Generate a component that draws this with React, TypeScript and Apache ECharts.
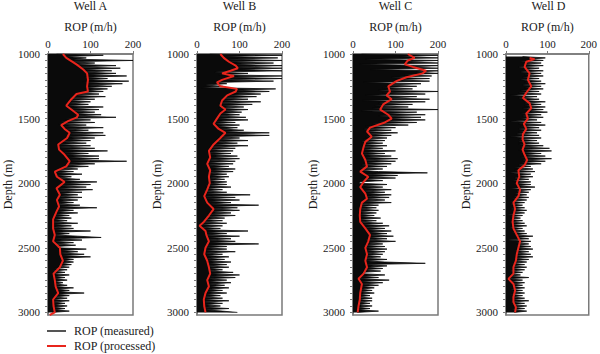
import { useEffect, useRef } from "react";
import * as echarts from "echarts";

const wells = ["Well A", "Well B", "Well C", "Well D"];
const depthTicks = [1000, 1500, 2000, 2500, 3000];
const depthMin = 1000;
const depthMax = 3020;
const depthStep = 10;
const measuredStart = [1000, 1000, 1000, 1020];
const measuredStep = 10;

// Measured ROP (m/h), one value every 10 m
const measuredA = [
  20, 130, 40, 90, 60, 200, 50, 110, 60, 160,
  70, 170, 80, 150, 85, 160, 90, 185, 85, 140,
  90, 190, 80, 175, 95, 150, 85, 140, 90, 130,
  70, 120, 60, 135, 50, 110, 45, 100, 50, 95,
  40, 130, 50, 120, 55, 110, 60, 125, 60, 160,
  40, 100, 30, 110, 25, 90, 35, 130, 40, 95,
  45, 130, 50, 135, 40, 110, 45, 100, 30, 90,
  20, 100, 25, 110, 30, 140, 35, 95, 40, 120,
  45, 120, 50, 185, 45, 110, 40, 95, 30, 70,
  15, 60, 20, 80, 20, 55, 25, 75, 30, 115,
  35, 100, 25, 90, 20, 105, 20, 80, 25, 70,
  25, 80, 20, 70, 25, 60, 20, 75, 25, 115,
  20, 60, 20, 70, 15, 50, 15, 55, 12, 45,
  10, 70, 12, 55, 10, 60, 12, 100, 15, 50,
  15, 70, 125, 15, 80, 12, 60, 15, 65, 20,
  25, 90, 30, 70, 30, 85, 30, 100, 35, 60,
  35, 60, 30, 55, 25, 50, 15, 45, 12, 40,
  10, 50, 15, 40, 15, 45, 15, 35, 18, 45,
  15, 60, 20, 50, 25, 85, 20, 50, 15, 45,
  10, 50, 12, 40, 15, 45, 12, 40, 15, 50,
  10,
];
const measuredB = [
  30, 200, 60, 190, 70, 200, 65, 180, 80, 200,
  90, 200, 100, 200, 40, 120, 50, 200, 70, 200,
  60, 180, 40, 70, 20, 60, 10, 185, 90, 170,
  80, 150, 70, 140, 60, 120, 55, 150, 50, 130,
  55, 110, 50, 120, 60, 105, 55, 100, 50, 115,
  45, 120, 40, 90, 35, 100, 45, 95, 55, 110,
  60, 170, 55, 170, 50, 100, 45, 120, 40, 95,
  35, 120, 30, 90, 25, 85, 25, 80, 30, 95,
  30, 100, 25, 90, 20, 85, 25, 75, 30, 90,
  30, 85, 25, 70, 30, 75, 30, 65, 25, 70,
  30, 70, 20, 80, 20, 60, 15, 70, 15, 125,
  15, 90, 20, 100, 25, 80, 30, 145, 35, 95,
  35, 100, 30, 80, 25, 90, 20, 65, 15, 60,
  10, 70, 5, 60, 10, 55, 15, 120, 20, 70,
  20, 100, 25, 80, 25, 90, 25, 145, 20, 70,
  20, 70, 15, 90, 18, 60, 20, 75, 22, 65,
  22, 80, 25, 70, 25, 75, 28, 60, 28, 85,
  30, 100, 28, 90, 25, 70, 25, 80, 28, 65,
  28, 75, 25, 60, 22, 70, 20, 55, 18, 60,
  15, 75, 15, 60, 18, 55, 18, 75, 20, 60,
  95,
];
const measuredC = [
  20, 200, 110, 200, 30, 200, 120, 200, 15, 200,
  130, 200, 40, 200, 150, 200, 120, 185, 90, 180,
  100, 180, 25, 160, 80, 150, 70, 140, 60, 200,
  70, 170, 30, 150, 80, 180, 20, 170, 60, 140,
  50, 130, 45, 200, 20, 150, 70, 170, 60, 160,
  80, 170, 60, 150, 45, 130, 30, 100, 25, 90,
  25, 105, 35, 90, 30, 80, 25, 75, 20, 70,
  20, 80, 20, 70, 18, 100, 20, 75, 22, 90,
  25, 105, 22, 100, 25, 90, 20, 80, 15, 70,
  15, 60, 175, 25, 105, 30, 100, 20, 70, 15,
  15, 80, 20, 70, 25, 90, 25, 75, 30, 90,
  30, 85, 25, 75, 20, 90, 15, 60, 15, 55,
  15, 60, 12, 55, 12, 50, 15, 65, 12, 55,
  15, 70, 20, 85, 25, 75, 30, 90, 35, 80,
  40, 95, 35, 80, 30, 100, 30, 70, 25, 75,
  25, 80, 28, 75, 30, 70, 28, 65, 25, 80,
  28, 75, 170, 25, 80, 30, 70, 25, 65, 25,
  22, 75, 20, 60, 12, 85, 15, 70, 20, 60,
  20, 50, 18, 45, 15, 50, 15, 40, 12, 45,
  12, 45, 12, 40, 10, 45, 10, 40, 10, 60,
  10,
];
const measuredD = [
  40, 95, 55, 90, 35, 85, 40, 90,
  30, 80, 40, 90, 35, 85, 45, 90, 40, 80,
  35, 85, 45, 95, 40, 85, 45, 90, 35, 80,
  30, 85, 10, 75, 30, 80, 40, 95, 45, 85,
  45, 95, 40, 90, 50, 100, 35, 85, 40, 90,
  35, 75, 10, 85, 30, 95, 35, 80, 30, 85,
  30, 75, 25, 80, 10, 85, 30, 75, 30, 80,
  30, 90, 35, 105, 30, 110, 35, 85, 40, 95,
  35, 110, 40, 95, 35, 85, 30, 60, 20, 65,
  20, 70, 10, 60, 25, 65, 20, 55, 15, 60,
  20, 60, 25, 70, 8, 60, 25, 55, 20, 50,
  20, 55, 15, 50, 10, 45, 12, 40, 15, 45,
  12, 50, 15, 45, 5, 40, 12, 35, 10, 40,
  10, 45, 12, 50, 10, 40, 15, 45, 15, 50,
  20, 65, 25, 55, 5, 60, 25, 55, 25, 60,
  25, 65, 20, 55, 22, 60, 20, 65, 20, 55,
  18, 50, 15, 45, 15, 50, 12, 45, 10, 40,
  10, 35, 8, 55, 5, 40, 12, 45, 15, 40,
  15, 45, 12, 40, 15, 45, 10, 40, 15, 45,
  15, 55, 12, 45, 15, 50, 18, 45, 15, 50,
  20,
];

// Processed (smoothed) ROP
const processedDepthA = [1000, 1030, 1080, 1120, 1150, 1200, 1250, 1290, 1310, 1350, 1400, 1430, 1470, 1490, 1520, 1550, 1580, 1610, 1650, 1700, 1740, 1780, 1830, 1870, 1910, 1950, 1990, 2040, 2090, 2130, 2180, 2220, 2280, 2350, 2400, 2450, 2500, 2550, 2600, 2650, 2700, 2750, 2800, 2850, 2900, 2950, 3000, 3020];
const processedA = [35, 43, 67, 83, 92, 94, 92, 94, 67, 55, 43, 55, 71, 68, 47, 31, 39, 51, 45, 24, 26, 39, 51, 43, 16, 21, 39, 20, 28, 21, 26, 20, 12, 12, 16, 12, 28, 29, 35, 28, 13, 16, 18, 24, 12, 13, 16, 4];
const processedDepthB = [1000, 1030, 1060, 1090, 1110, 1130, 1150, 1170, 1200, 1220, 1250, 1270, 1290, 1320, 1360, 1400, 1430, 1460, 1500, 1540, 1580, 1610, 1650, 1700, 1750, 1800, 1850, 1900, 1950, 2000, 2050, 2100, 2150, 2200, 2250, 2300, 2330, 2370, 2400, 2450, 2500, 2550, 2600, 2650, 2700, 2750, 2800, 2850, 2900, 2950, 3000];
const processedB = [55, 63, 75, 91, 96, 79, 59, 87, 59, 47, 55, 94, 91, 71, 59, 55, 67, 55, 47, 39, 51, 67, 55, 39, 28, 31, 24, 31, 28, 30, 24, 17, 24, 39, 28, 16, 6, 20, 22, 28, 20, 17, 24, 28, 31, 24, 28, 20, 16, 17, 20];
const processedDepthC = [1000, 1030, 1050, 1080, 1100, 1130, 1150, 1180, 1210, 1250, 1290, 1320, 1350, 1390, 1430, 1470, 1500, 1530, 1570, 1600, 1640, 1680, 1720, 1770, 1820, 1870, 1910, 1950, 1990, 2030, 2080, 2120, 2150, 2200, 2250, 2300, 2350, 2400, 2450, 2500, 2550, 2600, 2650, 2700, 2740, 2780, 2850, 2900, 2950, 3000];
const processedC = [129, 145, 129, 122, 141, 172, 164, 126, 102, 83, 87, 79, 91, 71, 64, 83, 91, 75, 40, 33, 44, 29, 25, 21, 29, 33, 17, 36, 25, 17, 29, 33, 21, 17, 16, 17, 29, 40, 36, 29, 33, 29, 33, 25, 13, 21, 17, 16, 13, 11];
const processedDepthD = [1030, 1040, 1060, 1100, 1150, 1200, 1250, 1300, 1340, 1380, 1420, 1460, 1500, 1540, 1580, 1620, 1660, 1700, 1740, 1780, 1820, 1860, 1900, 1950, 2000, 2050, 2100, 2150, 2200, 2250, 2300, 2350, 2400, 2450, 2500, 2550, 2600, 2650, 2700, 2740, 2780, 2830, 2880, 2920, 2960, 3000];
const processedD = [57, 69, 49, 45, 57, 53, 61, 49, 41, 57, 61, 49, 53, 43, 49, 41, 40, 45, 40, 45, 51, 45, 30, 32, 26, 34, 30, 18, 22, 18, 16, 18, 26, 34, 30, 26, 24, 18, 18, 6, 18, 22, 18, 18, 24, 22];

const measured = [measuredA, measuredB, measuredC, measuredD];
const processedDepths = [processedDepthA, processedDepthB, processedDepthC, processedDepthD];
const processed = [processedA, processedB, processedC, processedD];

const FONT = "'Liberation Serif', 'DejaVu Serif', serif";
const AXIS_COLOR = "#7a7a7a";
const TEXT_COLOR = "#1a1a1a";
const MEASURED_COLOR = "#0a0a0a";
const PROCESSED_COLOR = "#e8251c";
const gridLefts = [48, 197, 353, 506];
const gridWidth = 85;
const gridTop = 54;
const gridHeight = 261;

const depthCategories: string[] = [];
for (let d = depthMin; d <= depthMax; d += depthStep) depthCategories.push(String(d));
const depthIndex = (d: number) => depthCategories.indexOf(String(d));

export default function App() {
  const ref = useRef<HTMLDivElement>(null);
  useEffect(() => {
    if (!ref.current) return;
    const chart = echarts.init(ref.current, undefined, { renderer: "svg" });
    const series: any[] = [];
    wells.forEach((_, i) => {
      series.push({
        name: "ROP (measured)",
        type: "line",
        xAxisIndex: i,
        yAxisIndex: i,
        symbol: "none",
        clip: true,
        lineStyle: { color: MEASURED_COLOR, width: 0.8 },
        itemStyle: { color: MEASURED_COLOR },
        areaStyle: { color: MEASURED_COLOR, opacity: 1 },
        data: measured[i].map((v, k) => [v, depthIndex(measuredStart[i] + k * measuredStep)]),
        z: 2,
      });
    });
    wells.forEach((_, i) => {
      series.push({
        name: "ROP (processed)",
        type: "line",
        xAxisIndex: i,
        yAxisIndex: i,
        symbol: "none",
        clip: true,
        lineStyle: { color: PROCESSED_COLOR, width: 2 },
        itemStyle: { color: PROCESSED_COLOR },
        data: processed[i].map((v, k) => [v, depthIndex(processedDepths[i][k])]),
        z: 3,
      });
    });
    const legendBase = {
      left: 47,
      orient: "vertical",
      padding: 0,
      itemWidth: 19,
      itemHeight: 2,
      icon: "rect",
      textStyle: { fontFamily: FONT, fontSize: 12, color: TEXT_COLOR, padding: [0, 0, 0, 3] },
    };
    chart.setOption({
      animation: false,
      backgroundColor: "#fff",
      textStyle: { fontFamily: FONT },
      title: wells.map((w, i) => ({
        text: w,
        left: gridLefts[i] + gridWidth / 2,
        top: 0,
        padding: 0,
        textAlign: "center",
        textStyle: { fontFamily: FONT, fontSize: 12, fontWeight: "normal", color: TEXT_COLOR },
      })),
      legend: [
        { ...legendBase, top: 325, data: [{ name: "ROP (measured)", itemStyle: { color: "#555" } }] },
        { ...legendBase, top: 340, data: [{ name: "ROP (processed)", itemStyle: { color: PROCESSED_COLOR } }] },
      ],
      grid: wells.map((_, i) => ({
        left: gridLefts[i],
        top: gridTop,
        width: gridWidth,
        height: gridHeight,
        show: true,
        borderColor: AXIS_COLOR,
        borderWidth: 1.5,
        backgroundColor: "transparent",
      })),
      xAxis: wells.map((_, i) => ({
        type: "value",
        gridIndex: i,
        position: "top",
        min: 0,
        max: 200,
        interval: 100,
        name: "ROP (m/h)",
        nameLocation: "middle",
        nameGap: 20,
        nameTextStyle: { fontFamily: FONT, fontSize: 12, color: TEXT_COLOR },
        axisLine: { show: true, lineStyle: { color: AXIS_COLOR, width: 1.5 } },
        axisTick: { show: true, length: 3, lineStyle: { color: AXIS_COLOR } },
        axisLabel: { fontFamily: FONT, fontSize: 11, color: TEXT_COLOR, margin: 5 },
        splitLine: { show: false },
      })),
      yAxis: wells.map((_, i) => ({
        type: "category",
        gridIndex: i,
        inverse: true,
        boundaryGap: false,
        data: depthCategories,
        name: "Depth (m)",
        nameLocation: "middle",
        nameGap: 34,
        nameTextStyle: { fontFamily: FONT, fontSize: 12, color: TEXT_COLOR },
        axisLine: { show: true, lineStyle: { color: AXIS_COLOR, width: 1.5 } },
        axisTick: {
          show: true,
          length: 3,
          interval: (_idx: number, v: string) => Number(v) % 50 === 0,
          lineStyle: { color: AXIS_COLOR },
        },
        axisLabel: {
          fontFamily: FONT,
          fontSize: 11,
          color: TEXT_COLOR,
          margin: 8,
          interval: (_idx: number, v: string) => depthTicks.includes(Number(v)),
        },
        splitLine: { show: false },
      })),
      series,
    });
    return () => chart.dispose();
  }, []);
  return <div ref={ref} style={{ position: "absolute", left: 0, top: 0, width: 600, height: 354 }} />;
}
